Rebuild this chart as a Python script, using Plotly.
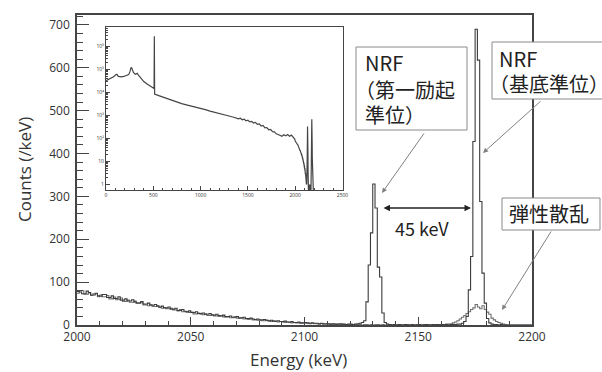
import numpy as np
import plotly.graph_objects as go

# ---------------- data ----------------
bin_low = 2000          # first bin edge (keV)
bin_width = 1           # keV per bin

# spectrum A (with NRF peaks), 2000-2199 keV, counts per keV
counts_a = [
    78, 77, 73, 73, 79, 76, 70, 70, 74, 68,
    67, 71, 71, 64, 64, 68, 62, 62, 66, 58,
    58, 61, 56, 56, 59, 54, 52, 52, 55, 49,
    49, 51, 46, 46, 48, 44, 42, 44, 40, 40,
    42, 37, 37, 39, 34, 34, 36, 32, 31, 33,
    29, 29, 31, 27, 27, 28, 25, 25, 27, 23,
    23, 25, 22, 21, 23, 20, 20, 21, 18, 18,
    20, 17, 17, 18, 15, 15, 16, 14, 13, 14,
    12, 12, 13, 11, 10, 11, 9, 9, 10, 8,
    8, 9, 7, 7, 8, 6, 6, 7, 5, 5,
    6, 5, 4, 5, 4, 4, 3, 4, 3, 3,
    3, 2, 3, 2, 2, 3, 2, 2, 1, 2,
    2, 1, 2, 3, 4, 6, 10, 54, 140, 215,
    329, 273, 135, 112, 28, 6, 2, 1, 0, 1,
    0, 1, 0, 0, 1, 0, 0, 1, 0, 0,
    1, 0, 0, 1, 0, 0, 1, 0, 1, 0,
    1, 0, 1, 0, 1, 1, 1, 2, 2, 4,
    8, 20, 82, 160, 428, 690, 618, 288, 121, 51,
    15, 5, 2, 1, 1, 0, 1, 0, 0, 0,
    0, 0, 0, 0, 0, 0, 0, 0, 0, 0,
]

# spectrum B (with elastic-scattering bump), 2000-2199 keV
counts_b = [
    74, 80, 80, 72, 72, 75, 69, 73, 73, 66,
    70, 66, 66, 69, 61, 61, 65, 59, 60, 63,
    55, 55, 58, 53, 53, 56, 50, 50, 53, 47,
    47, 45, 48, 43, 43, 45, 41, 39, 41, 38,
    38, 39, 35, 35, 33, 36, 31, 31, 30, 29,
    30, 26, 26, 28, 25, 24, 26, 22, 22, 24,
    21, 21, 20, 22, 19, 18, 19, 17, 17, 19,
    16, 15, 16, 14, 14, 13, 14, 12, 12, 11,
    11, 10, 10, 11, 9, 8, 9, 8, 7, 8,
    7, 6, 7, 6, 5, 6, 5, 5, 4, 5,
    4, 4, 3, 4, 3, 3, 2, 3, 2, 2,
    2, 2, 1, 2, 1, 1, 2, 1, 1, 1,
    1, 1, 0, 1, 1, 0, 1, 1, 0, 1,
    0, 1, 1, 0, 1, 0, 0, 1, 0, 0,
    0, 0, 1, 0, 0, 1, 0, 0, 0, 1,
    0, 0, 1, 0, 1, 0, 0, 1, 0, 1,
    1, 1, 2, 2, 3, 5, 7, 10, 14, 18,
    22, 27, 31, 36, 40, 48, 42, 38, 45, 36,
    30, 25, 16, 12, 8, 6, 4, 2, 1, 0,
    0, 0, 0, 0, 0, 0, 0, 0, 0, 0,
]

# inset: full spectrum 0-2000 keV (log scale), continued by spectrum A
inset_energy = [0, 20, 40, 60, 80, 100, 115, 130, 160, 190, 220, 240, 255, 265, 275,
                290, 310, 330, 345, 370, 400, 430, 460, 490, 508, 511, 514, 550, 600,
                650, 700, 750, 800, 850, 900, 950, 1000, 1050, 1100, 1150, 1200, 1250,
                1300, 1350, 1400, 1420, 1440, 1460, 1480, 1500, 1520, 1540, 1560, 1580,
                1600, 1620, 1640, 1660, 1680, 1700, 1720, 1740, 1760, 1780, 1800, 1820,
                1840, 1860, 1880, 1900, 1920, 1940, 1960, 1980, 1995]
inset_counts = [3.3e4, 3.6e4, 3.9e4, 4.2e4, 4.8e4, 5.8e4, 6.2e4, 5.0e4, 4.8e4, 5.0e4,
                5.4e4, 6.0e4, 8.5e4, 1.25e5, 1.1e5, 7.5e4, 6.2e4, 6.8e4, 5.5e4, 4.0e4,
                3.0e4, 2.4e4, 2.0e4, 1.7e4, 1.5e4, 2.8e6, 8.5e3, 7.5e3, 6.3e3, 5.2e3,
                4.4e3, 3.8e3, 3.3e3, 2.9e3, 2.6e3, 2.3e3, 2.0e3, 1.8e3, 1.55e3, 1.35e3,
                1.2e3, 1.05e3, 950, 840, 720, 760, 650, 700, 590, 620, 530, 560, 470,
                500, 410, 430, 350, 370, 290, 300, 240, 250, 200, 195, 160, 150, 140,
                125, 145, 130, 150, 125, 140, 110, 95]

x_tick_step = 50
y_tick_step = 100
inset_x_tick_step = 500
inset_y_tickvals = [1, 10, 100, 1e3, 1e4, 1e5, 1e6]
inset_y_ticktext = ["1", "10", "10²", "10³", "10⁴", "10⁵", "10⁶"]

label_excited = ["NRF", "（第一励起", "準位）"]
label_ground = ["NRF", "（基底準位）"]
label_elastic = "弾性散乱"
label_gap = "45 keV"

# ---------------- geometry ----------------
W, H = 602, 372
L, R, T, B = 77, 532, 15, 325
XMIN, XMAX = 2000, 2200
YMIN, YMAX = 0, 723.3
PW, PH = R - L, B - T

def pxp(x):  # pixel x -> paper
    return (x - L) / PW

def pyp(y):  # pixel y -> paper
    return (B - y) / PH

def pxd(x):  # pixel x -> data
    return XMIN + (x - L) * (XMAX - XMIN) / PW

def pyd(y):  # pixel y -> data
    return YMIN + (B - y) * (YMAX - YMIN) / PH

LINE = "#454545"
TXT = "#333333"
FONT = "Open Sans"
CJK = "Noto Sans CJK JP"

edges = bin_low + bin_width * np.arange(len(counts_a) + 1)

fig = go.Figure()
for c, col in ((counts_b, "#707070"), (counts_a, "#3c3c3c")):
    fig.add_trace(go.Scatter(x=edges, y=list(c) + [c[-1]], mode="lines",
                             line=dict(shape="hv", color=col, width=1.1),
                             showlegend=False, hoverinfo="skip"))

# inset trace
centers = edges[:-1] + bin_width / 2
ins_x = list(inset_energy) + list(centers)
ins_y = list(inset_counts) + [max(v, 0.05) for v in counts_a]
fig.add_trace(go.Scatter(x=ins_x, y=ins_y, mode="lines", xaxis="x2", yaxis="y2",
                         line=dict(color=LINE, width=1.2),
                         showlegend=False, hoverinfo="skip"))

axis_common = dict(showline=True, linecolor=LINE, linewidth=1.5, mirror=True,
                   showgrid=False, zeroline=False, ticks="inside", tickcolor=LINE)

ix0, ix1, iy_top, iy_bot = 106, 342.5, 27, 190
minor_log = [k * 10 ** d for d in range(0, 7) for k in range(2, 10)]

fig.update_layout(
    width=W, height=H,
    margin=dict(l=L, r=W - R, t=T, b=H - B),
    paper_bgcolor="white", plot_bgcolor="white",
    font=dict(family=FONT, color=TXT),
    xaxis=dict(range=[XMIN, XMAX], domain=[0, 1], tickmode="linear", tick0=XMIN,
               dtick=x_tick_step, ticklen=8, tickwidth=1.2,
               minor=dict(ticks="inside", dtick=10, ticklen=4, tickcolor=LINE, tickwidth=1),
               tickfont=dict(size=12, color=TXT, family=FONT), **axis_common),
    yaxis=dict(range=[YMIN, YMAX], domain=[0, 1], tickmode="linear", tick0=0,
               dtick=y_tick_step, ticklen=12, tickwidth=1.2, ticklabelstandoff=3,
               minor=dict(ticks="inside", dtick=20, ticklen=6, tickcolor=LINE, tickwidth=1),
               tickfont=dict(size=12, color=TXT, family=FONT), **axis_common),
    xaxis2=dict(range=[0, 2500], domain=[pxp(ix0), pxp(ix1)], anchor="y2",
                tickmode="linear", tick0=0, dtick=inset_x_tick_step, ticklen=4, tickwidth=1,
                minor=dict(ticks="inside", dtick=100, ticklen=2, tickcolor=LINE),
                tickfont=dict(size=5, color=TXT, family=FONT),
                showline=True, linecolor=LINE, linewidth=1.2, mirror=True,
                showgrid=False, zeroline=False, ticks="inside", tickcolor=LINE),
    yaxis2=dict(type="log", range=[-0.24, 6.85], domain=[pyp(iy_bot), pyp(iy_top)],
                anchor="x2", tickmode="array", tickvals=inset_y_tickvals,
                ticktext=inset_y_ticktext, ticklen=4, tickwidth=1,
                minor=dict(ticks="inside", tickvals=minor_log, ticklen=2, tickcolor=LINE),
                tickfont=dict(size=5, color=TXT, family=FONT),
                showline=True, linecolor=LINE, linewidth=1.2, mirror=True,
                showgrid=False, zeroline=False, ticks="inside", tickcolor=LINE),
)

# label boxes (white rectangles drawn above the data)
shapes = []
for x0, y0, x1, y1 in ((356, 47, 467, 130), (492, 42, 603, 99), (502, 198, 600, 230)):
    shapes.append(dict(type="rect", xref="paper", yref="paper",
                       x0=pxp(x0), x1=pxp(x1), y0=pyp(y1), y1=pyp(y0),
                       line=dict(color="#8a8a8a", width=1), fillcolor="white", layer="above"))

ann = []
# axis titles
ann.append(dict(text="Energy (keV)", xref="paper", yref="paper", x=pxp(298), y=pyp(360),
                xanchor="center", yanchor="middle",
                showarrow=False, font=dict(size=17, color=TXT, family=FONT)))
ann.append(dict(text="Counts (/keV)", xref="paper", yref="paper", x=pxp(24), y=pyp(170),
                xanchor="center", yanchor="middle",
                showarrow=False, textangle=-90, font=dict(size=17, color=TXT, family=FONT)))

box_font = dict(size=20, color="#222222", family=CJK)

def line_label(text, x, y):
    # CJK full-width parenthesis carries left side bearing; pull it left to align ink
    shift = -10 if text.startswith("（") else 0
    return dict(text=text, xref="paper", yref="paper", x=pxp(x + shift), y=pyp(y),
                xanchor="left", yanchor="middle", showarrow=False, font=box_font)

for t, yc in zip(label_excited, (62.5, 89, 114)):
    ann.append(line_label(t, 363, yc))
for t, yc in zip(label_ground, (58.5, 84)):
    ann.append(line_label(t, 497, yc))
ann.append(line_label(label_elastic, 507, 214))

arrow_common = dict(xref="x", yref="y", text="", showarrow=True, arrowhead=2,
                    arrowsize=1, arrowwidth=1, arrowcolor="#808080")
ann.append(dict(x=pxd(382), y=pyd(193), ax=425 - 382, ay=132 - 193, **arrow_common))
ann.append(dict(x=pxd(483), y=pyd(153), ax=542 - 483, ay=100 - 153, **arrow_common))
ann.append(dict(x=pxd(502), y=pyd(310), ax=552 - 502, ay=230 - 310, **arrow_common))

# 45 keV double arrow
ann.append(dict(xref="x", yref="y", text="", showarrow=True, arrowhead=2, arrowsize=1,
                arrowwidth=1.3, arrowcolor="#222222", arrowside="end+start",
                x=pxd(471), y=pyd(208), ax=382 - 471, ay=0))
ann.append(dict(text=label_gap, xref="paper", yref="paper", x=pxp(422), y=pyp(228),
                xanchor="center", yanchor="middle",
                showarrow=False, font=dict(size=18, color="#222222", family=CJK)))

fig.update_layout(annotations=ann, shapes=shapes)
fig.write_html("out.html", config={"displayModeBar": False},
               post_script="document.body.style.margin='0';document.body.style.padding='0';")
